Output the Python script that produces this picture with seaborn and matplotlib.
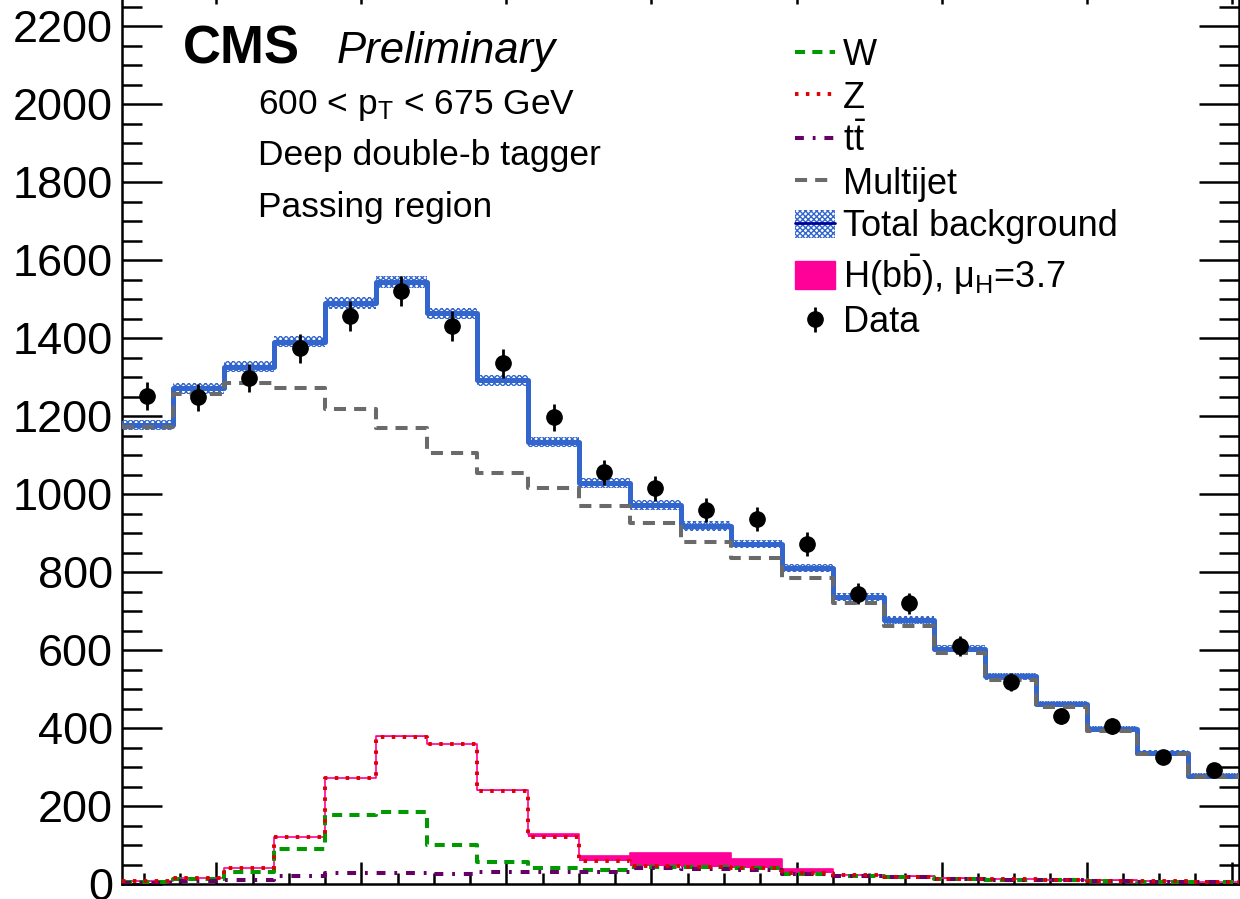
import numpy as np
import matplotlib
matplotlib.use("Agg")
import matplotlib.pyplot as plt
import matplotlib.patches as mpatches
from matplotlib.lines import Line2D
from matplotlib.ticker import MultipleLocator
from matplotlib.container import ErrorbarContainer
from matplotlib.legend_handler import HandlerErrorbar
import seaborn as sns

# soft-drop mass bins (7 GeV wide, 47-201 GeV)
edges = list(range(47, 202, 7))
centers = [e + 3.5 for e in edges[:-1]]

data = [1251, 1248, 1297, 1374, 1457, 1521, 1431, 1335, 1197, 1056, 1015,
        959, 936, 872, 744, 720, 610, 518, 431, 405, 326, 292]
data_err = [35, 35, 36, 37, 38, 39, 38, 37, 35, 32, 32,
            31, 31, 30, 27, 27, 25, 23, 21, 20, 18, 17]
total_bkg = [1177, 1271, 1326, 1390, 1490, 1544, 1463, 1292, 1134, 1028, 972,
             918, 872, 810, 736, 677, 603, 533, 462, 397, 336, 277]
total_unc = [14, 14, 14, 14, 15, 15, 15, 14, 13, 12, 12,
             12, 11, 11, 10, 10, 9, 9, 8, 8, 7, 7]
multijet = [1172, 1256, 1285, 1273, 1217, 1169, 1105, 1053, 1015, 969, 925,
            877, 836, 785, 720, 662, 592, 523, 453, 392, 333, 275]
wjets = [6, 13, 31, 89, 176, 184, 100, 56, 41, 37, 44,
         43, 41, 26, 21, 18, 13, 11, 9, 7.5, 6, 4.5]
zjets = [6.5, 16, 40, 121, 271, 378, 359, 239, 120, 59, 45,
         43, 41, 28, 22, 19, 14, 12, 10, 8.5, 6.5, 5]
ttbar = [3, 7, 10, 20, 27, 27, 26, 32, 31, 31, 42,
         39, 37, 25, 20, 17, 13, 11, 9, 8, 6, 4]
hbb = [0, 0, 0, 0.5, 1, 1, 1, 1.5, 8, 13, 34,
       36, 24, 10, 2, 1, 1, 0.5, 0.5, 0.5, 0.5, 0.5]

c_w = "#009900"
c_z = "#dd0000"
c_tt = "#660066"
c_qcd = "#6a6a6a"
c_bkg = "#3366cc"
c_h = "#ff0099"

sns.set_style("ticks")
plt.rcParams["font.family"] = ["Liberation Sans", "DejaVu Sans"]
plt.rcParams["mathtext.fontset"] = "custom"
plt.rcParams["mathtext.rm"] = "Liberation Sans"
plt.rcParams["mathtext.it"] = "Liberation Sans:italic"
plt.rcParams["hatch.linewidth"] = 1.0
plt.rcParams["text.color"] = "black"
plt.rcParams["ytick.labelcolor"] = "black"

fig = plt.figure(figsize=(12.4, 8.99), dpi=100)
ax = fig.add_axes([122 / 1240, 15 / 899, 1117 / 1240, 902 / 899])


def step(vals, **kw):
    sns.histplot(x=centers, weights=list(vals), bins=edges, element="step",
                 fill=False, ax=ax, **kw)
    return ax.lines[-1]


def ext(vals):
    vals = np.asarray(vals, dtype=float)
    return np.append(vals, vals[-1])


# signal stacked on top of Z
zj = np.array(zjets, dtype=float)
zh = zj + np.array(hbb)
ax.fill_between(edges, ext(zj), ext(zh), step="post", color=c_h, lw=0, zorder=2)
step(zh, color=c_h, linewidth=1.2, zorder=2)

# total background with hatched uncertainty band
tb = np.array(total_bkg, dtype=float)
tu = np.array(total_unc, dtype=float)
ax.fill_between(edges, ext(tb - tu), ext(tb + tu), step="post", facecolor="none",
                edgecolor=c_bkg, hatch="xxxxxx", linewidth=0, zorder=3)
step(tb, color=c_bkg, linewidth=3.6, zorder=4)

qcd_line = step(multijet, color=c_qcd, linewidth=2.9, dashes=(3, 2), zorder=5)
w_line = step(wjets, color=c_w, linewidth=2.9, dashes=(2.5, 1.8), zorder=5)
tt_line = step(ttbar, color=c_tt, linewidth=2.9, dashes=(2.2, 2.2, 0.7, 2.2), zorder=5)
z_line = step(zjets, color=c_z, linewidth=2.8, dashes=(0.9, 1.9), zorder=6)

data_h = ax.errorbar(centers, data, yerr=data_err, fmt="o", color="black",
                     ms=11, elinewidth=2, capsize=0, zorder=8)

ax.set_xlim(47, 201)
ax.set_ylim(0, 2313)
ax.set_xlabel("")
ax.set_ylabel("")
ax.xaxis.set_major_locator(MultipleLocator(20))
ax.xaxis.set_minor_locator(MultipleLocator(5))
ax.yaxis.set_major_locator(MultipleLocator(200))
ax.yaxis.set_minor_locator(MultipleLocator(50))
ax.tick_params(which="both", direction="in", top=True, right=True, width=1.8,
               colors="black", labelbottom=False)
ax.tick_params(axis="x", which="major", length=16)
ax.tick_params(axis="x", which="minor", length=8)
ax.tick_params(axis="y", which="major", length=29, labelsize=32.5, pad=6.5)
ax.tick_params(axis="y", which="minor", length=14.5)
for sp in ax.spines.values():
    sp.set_visible(True)
    sp.set_linewidth(1.8)
    sp.set_color("black")

# labels
fig.text(183 / 1240, 1 - 63 / 899, "CMS", fontsize=38, fontweight="bold",
         va="baseline")
fig.text(337 / 1240, 1 - 63 / 899, "Preliminary", fontsize=31.5,
         fontstyle="italic", va="baseline")
fig.text(258 / 1240, 1 - 114 / 899, r"600 < $\mathregular{p_{T}}$ < 675 GeV",
         fontsize=25.5, va="baseline")
fig.text(258 / 1240, 1 - 165 / 899, "Deep double-b tagger", fontsize=25.5,
         va="baseline")
fig.text(258 / 1240, 1 - 217 / 899, "Passing region", fontsize=25.5,
         va="baseline")

bkg_patch = mpatches.Patch(facecolor="white", edgecolor=c_bkg,
                           hatch="xxxxxx", linewidth=0)
bkg_leg_line = Line2D([], [], color="#000099", linewidth=2)
h_patch = mpatches.Patch(color=c_h)

handles = [w_line, z_line, tt_line, qcd_line, (bkg_patch, bkg_leg_line),
           h_patch, data_h]
labels = ["W", "Z", r"t$\mathregular{\bar{t}}$", "Multijet", "Total background",
          r"H(b$\mathregular{\bar{b}}$), μ$_\mathregular{H}$=3.7", "Data"]
ax.legend(handles, labels, loc="upper left",
          bbox_to_anchor=(795 / 1240, 1 - 38 / 899),
          bbox_transform=fig.transFigure, frameon=False, fontsize=26,
          handlelength=1.1, handleheight=0.8, handletextpad=0.22,
          labelspacing=0.21, borderpad=0, borderaxespad=0,
          handler_map={ErrorbarContainer: HandlerErrorbar(yerr_size=0.35)})

fig.savefig("out.png", dpi=100)
